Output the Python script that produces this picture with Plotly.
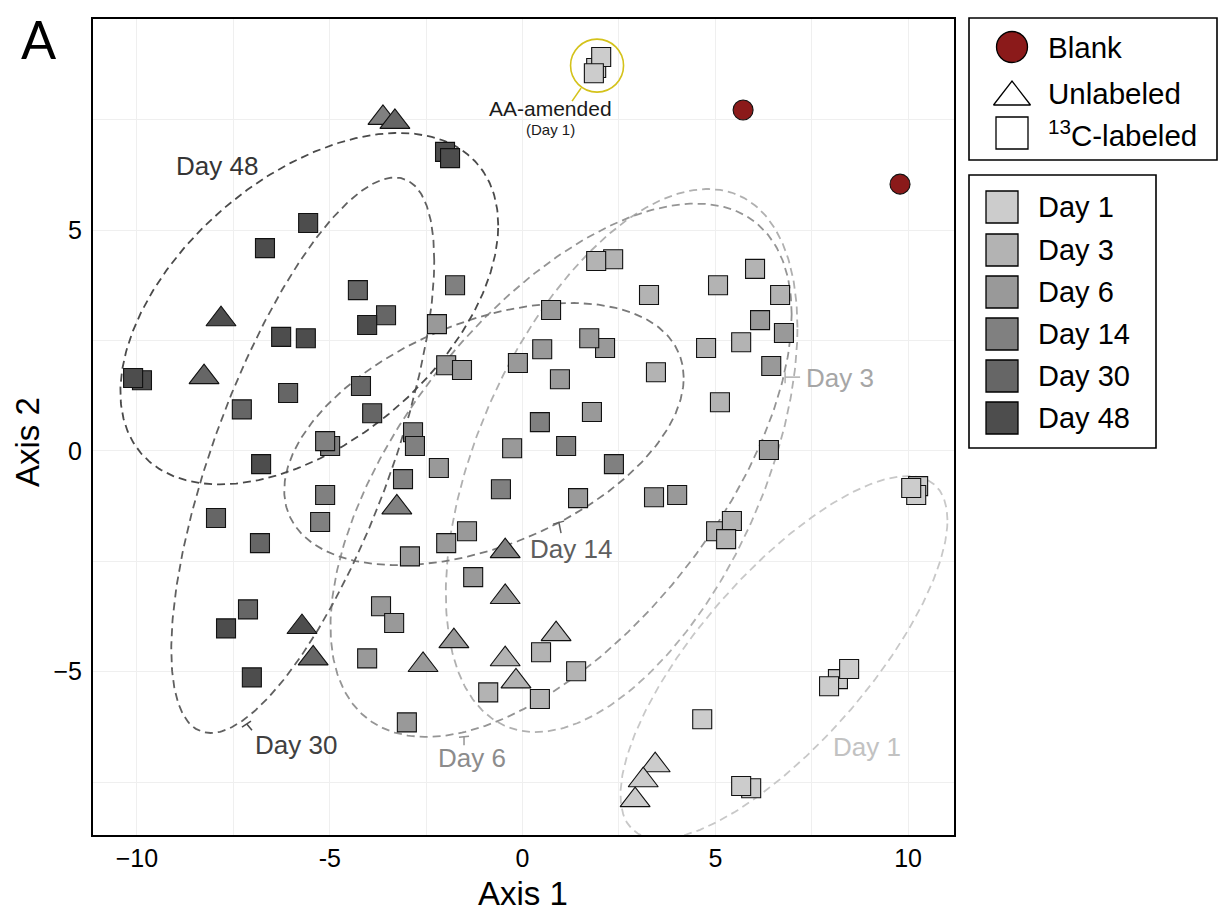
import numpy as np
import plotly.graph_objects as go

# ---------------- data ----------------
days = ["Day 1", "Day 3", "Day 6", "Day 14", "Day 30", "Day 48"]
day_fill = ["#cccccc", "#b3b3b3", "#999999", "#808080", "#666666", "#4d4d4d"]

# 13C-labeled samples (squares)
lab_d1_x = [1.91, 2.04, 1.85, 10.26, 10.21, 10.08, 8.18, 8.47, 7.95, 4.66, 5.93, 5.67]
lab_d1_y = [8.67, 8.92, 8.55, -0.80, -1.00, -0.84, -5.17, -4.94, -5.33, -6.08, -7.64, -7.59]

lab_d3_x = [2.35, 1.91, 3.28, 5.07, 6.03, 6.68, 5.67, 4.76, 3.46, 5.12, 5.02, 5.43, 5.28, 0.48, 1.39, -0.89, 0.45]
lab_d3_y = [4.34, 4.30, 3.53, 3.75, 4.12, 3.53, 2.46, 2.33, 1.78, 1.10, -1.82, -1.59, -2.00, -4.56, -4.99, -5.47, -5.62]

lab_d6_x = [-2.22, -1.98, -1.57, -2.17, -0.27, -1.44, -1.98, -2.92, -1.28, -3.67, -3.33, -4.03, -3.00,
            0.74, 2.14, 1.73, 0.51, -0.12, 0.97, 1.80, 1.44, 3.41, 4.01, 6.16, 6.78, 6.45, 6.39]
lab_d6_y = [2.87, 1.94, 1.83, -0.39, 0.06, -1.82, -2.09, -2.39, -2.86, -3.52, -3.90, -4.70, -6.15,
            3.19, 2.33, 2.55, 2.30, 1.99, 1.62, 0.88, -1.07, -1.05, -1.00, 2.96, 2.67, 1.92, 0.02]

lab_d14_x = [-1.75, -2.84, -2.79, -4.99, -5.12, -3.10, -5.12, -5.25, -0.56, 0.45, 1.13, 2.37]
lab_d14_y = [3.75, 0.42, 0.11, 0.11, 0.22, -0.64, -1.00, -1.61, -0.87, 0.65, 0.11, -0.30]

lab_d30_x = [-4.27, -3.54, -4.19, -6.08, -7.28, -3.90, -7.95, -6.81, -7.12]
lab_d30_y = [3.64, 3.07, 1.47, 1.31, 0.94, 0.85, -1.52, -2.09, -3.59]

lab_d48_x = [-2.01, -1.88, -5.56, -6.68, -4.03, -6.26, -5.62, -9.87, -10.10, -6.78, -7.69, -7.02]
lab_d48_y = [6.77, 6.63, 5.16, 4.59, 2.85, 2.58, 2.55, 1.60, 1.65, -0.30, -4.02, -5.13]

# Unlabeled samples (triangles)
unl_d1_x = [3.44, 3.13, 2.92]
unl_d1_y = [-7.12, -7.46, -7.91]
unl_d3_x = [0.87, -0.45, -0.17]
unl_d3_y = [-4.15, -4.72, -5.22]
unl_d6_x = [-0.45, -1.78, -2.58]
unl_d6_y = [-3.31, -4.31, -4.85]
unl_d14_x = [-3.62, -3.26, -0.45]
unl_d14_y = [7.54, -1.28, -2.27]
unl_d30_x = [-3.31, -8.26, -5.43]
unl_d30_y = [7.45, 1.67, -4.70]
unl_d48_x = [-7.82, -5.72]
unl_d48_y = [2.98, -3.99]

# Blanks (circles)
blank_x = [5.72, 9.79]
blank_y = [7.72, 6.04]

# Group ellipses (centre, half-extent in x / y, correlation), one per day
ell_cx = [6.78, 2.57, 1.00, -1.00, -5.70, -5.53]
ell_cy = [-4.68, -0.22, -0.44, 0.38, -0.10, 3.22]
ell_sx = [4.24, 4.56, 5.98, 5.18, 3.41, 4.90]
ell_sy = [4.11, 6.15, 6.04, 2.97, 6.29, 3.98]
ell_r = [0.757, 0.49, 0.585, 0.43, 0.70, 0.474]

x_ticks = [-10, -5, 0, 5, 10]
x_ticktext = ["\u221210", "-5", "0", "5", "10"]
y_ticks = [-5, 0, 5]
y_ticktext = ["\u22125", "0", "5"]

lab_x = [lab_d1_x, lab_d3_x, lab_d6_x, lab_d14_x, lab_d30_x, lab_d48_x]
lab_y = [lab_d1_y, lab_d3_y, lab_d6_y, lab_d14_y, lab_d30_y, lab_d48_y]
unl_x = [unl_d1_x, unl_d3_x, unl_d6_x, unl_d14_x, unl_d30_x, unl_d48_x]
unl_y = [unl_d1_y, unl_d3_y, unl_d6_y, unl_d14_y, unl_d30_y, unl_d48_y]

# ---------------- styling / layout constants ----------------
FONT = "Liberation Sans, Arial, Helvetica, sans-serif"
OFF = 0                      # page body margin removed via post_script
W, H = 1220 - OFF, 911 - OFF
SCR_L, SCR_R, SCR_T, SCR_B = 93, 954, 19, 835      # plot panel on screen
ML, MR, MT, MB = SCR_L - OFF, 0, 0, H - (SCR_B - OFF)
PW, PH = W - ML - MR, H - MT - MB
ell_line = ["#c8c8c8", "#b0b0b0", "#959595", "#7a7a7a", "#606060", "#4a4a4a"]
lbl_color = ["#c2c2c2", "#a6a6a6", "#8c8c8c", "#5e5e5e", "#404040", "#353535"]
BLANK = "#8b1a1a"
YELLOW = "#d4c21a"


def paper(xs, ys):
    """screen pixel -> paper coordinates"""
    return (xs - SCR_L) / PW, (SCR_B - ys) / PH


fig = go.Figure()

# ellipses
t = np.linspace(0, 2 * np.pi, 400)
for i in range(len(days)):
    S = np.array([[ell_sx[i] ** 2, ell_r[i] * ell_sx[i] * ell_sy[i]],
                  [ell_r[i] * ell_sx[i] * ell_sy[i], ell_sy[i] ** 2]])
    L = np.linalg.cholesky(S)
    pts = L @ np.vstack([np.cos(t), np.sin(t)])
    fig.add_trace(go.Scatter(
        x=ell_cx[i] + pts[0], y=ell_cy[i] + pts[1], mode="lines",
        line=dict(color=ell_line[i], width=1.8, dash="8px,5px"),
        hoverinfo="skip", showlegend=False))

# points
for i in range(len(days)):
    fig.add_trace(go.Scatter(
        x=lab_x[i], y=lab_y[i], mode="markers", name=days[i],
        marker=dict(symbol="square", size=19, color=day_fill[i],
                    line=dict(color="#111111", width=1.1)),
        showlegend=False))
for i in range(len(days)):
    fig.add_trace(go.Scatter(
        x=unl_x[i], y=unl_y[i], mode="markers", name=days[i] + " unlabeled",
        marker=dict(symbol="triangle-up", size=26, color=day_fill[i],
                    line=dict(color="#111111", width=1.1)),
        showlegend=False))
fig.add_trace(go.Scatter(
    x=blank_x, y=blank_y, mode="markers", name="Blank",
    marker=dict(symbol="circle", size=20, color=BLANK,
                line=dict(color="#111111", width=1.1)),
    showlegend=False))

# ellipse labels
lbl_pos = {"Day 1": (8.94, -6.71), "Day 3": (8.24, 1.65), "Day 6": (-1.31, -6.96),
           "Day 14": (1.26, -2.23), "Day 30": (-5.87, -6.67), "Day 48": (-7.92, 6.45)}
annotations = []
for i, d in enumerate(days):
    x, y = lbl_pos[d]
    annotations.append(dict(x=x, y=y, xref="x", yref="y", text=d, showarrow=False,
                            font=dict(family=FONT, size=26, color=lbl_color[i]),
                            xanchor="center", yanchor="middle"))


def dx(px):
    return (px - 522.5) / 38.55


def dy(py):
    return (450.7 - py) / 44.15


# label connector ticks
ticks_segs = [
    (559, 523, 561, 533, 4), (553, 524, 564, 521, 4),      # Day 14
    (464, 736, 464, 745, 2), (459, 737, 469, 736, 2),      # Day 6
    (247, 724, 252, 730, 5), (242, 727, 251, 721, 5),      # Day 30
    (785, 377, 800, 377, 1), (785, 372, 785, 383, 1),      # Day 3
]
shapes = []
for x0, y0, x1, y1, ci in ticks_segs:
    shapes.append(dict(type="line", xref="x", yref="y", x0=dx(x0), y0=dy(y0), x1=dx(x1), y1=dy(y1),
                       line=dict(color=ell_line[ci], width=1.5)))

# AA-amended highlight
shapes.append(dict(type="circle", xref="x", yref="y", xsizemode="pixel", ysizemode="pixel",
                   xanchor=dx(597), yanchor=dy(65.5), x0=-26.5, x1=26.5, y0=-26.5, y1=26.5,
                   line=dict(color=YELLOW, width=1.6)))
shapes.append(dict(type="line", xref="x", yref="y", x0=dx(581), y0=dy(88), x1=dx(572), y1=dy(101),
                   line=dict(color=YELLOW, width=1.6)))
annotations.append(dict(x=dx(550), y=dy(108), xref="x", yref="y", text="AA-amended", showarrow=False,
                        xanchor="center", yanchor="middle",
                        font=dict(family=FONT, size=21, color="#1a1a1a")))
annotations.append(dict(x=dx(550), y=dy(129), xref="x", yref="y", text="(Day 1)", showarrow=False,
                        xanchor="center", yanchor="middle",
                        font=dict(family=FONT, size=15, color="#1a1a1a")))

# axis titles and panel letter
for txt, (xs, ys), ang, size, fam in [("Axis 1", (523, 893), 0, 33, FONT),
                                      ("Axis 2", (27, 442), -90, 33, FONT),
                                      ("A", (39, 39), 0, 52, "Lato, " + FONT)]:
    px_, py_ = paper(xs, ys)
    annotations.append(dict(x=px_, y=py_, xref="paper", yref="paper", text=txt, showarrow=False,
                            textangle=ang, xanchor="center", yanchor="middle",
                            font=dict(family=fam, size=size, color="black")))

# ---------------- custom legends (screen-pixel axis x2/y2) ----------------
fig.add_trace(go.Scatter(x=[1012], y=[47], xaxis="x2", yaxis="y2", mode="markers",
                         marker=dict(symbol="circle", size=31, color=BLANK, line=dict(color="black", width=1.3)),
                         showlegend=False, hoverinfo="skip"))
fig.add_trace(go.Scatter(x=[1012], y=[97], xaxis="x2", yaxis="y2", mode="markers",
                         marker=dict(symbol="triangle-up", size=32, color="white", line=dict(color="black", width=1.3)),
                         showlegend=False, hoverinfo="skip"))
fig.add_trace(go.Scatter(x=[1012], y=[133], xaxis="x2", yaxis="y2", mode="markers",
                         marker=dict(symbol="square", size=32, color="white", line=dict(color="black", width=1.3)),
                         showlegend=False, hoverinfo="skip"))
leg_y = [207, 250, 292, 334, 376, 418]
fig.add_trace(go.Scatter(x=[1002] * len(days), y=leg_y, xaxis="x2", yaxis="y2", mode="markers",
                         marker=dict(symbol="square", size=32, color=day_fill, line=dict(color="black", width=1.3)),
                         showlegend=False, hoverinfo="skip"))
for txt, y in [("Blank", 47), ("Unlabeled", 93), ("<sup>13</sup>C-labeled", 133)]:
    annotations.append(dict(x=1046, y=y, xref="x2", yref="y2", text=txt, showarrow=False,
                            xanchor="left", yanchor="middle", font=dict(family=FONT, size=29.5, color="black")))
for d, y in zip(days, leg_y):
    annotations.append(dict(x=1036, y=y, xref="x2", yref="y2", text=d, showarrow=False,
                            xanchor="left", yanchor="middle", font=dict(family=FONT, size=29, color="black")))
shapes.append(dict(type="rect", xref="x2", yref="y2", x0=969, x1=1217, y0=18, y1=160,
                   line=dict(color="black", width=1.6)))
shapes.append(dict(type="rect", xref="x2", yref="y2", x0=969, x1=1156, y0=175, y1=448,
                   line=dict(color="black", width=1.6)))

grid = "#efefef"
fig.update_layout(
    width=W, height=H, margin=dict(l=ML, r=MR, t=MT, b=MB, autoexpand=False),
    paper_bgcolor="white", plot_bgcolor="white",
    showlegend=False,
    font=dict(family=FONT, color="black"),
    xaxis=dict(domain=[0, (SCR_R - SCR_L) / PW], range=[-11.14, 11.19],
               tickmode="array", tickvals=x_ticks, ticktext=x_ticktext,
               tickfont=dict(size=25, family=FONT, color="black"),
               showgrid=True, gridcolor=grid, gridwidth=1, zeroline=False,
               minor=dict(tickmode="array", tickvals=[-7.5, -2.5, 2.5, 7.5], showgrid=True,
                          gridcolor=grid, gridwidth=1, ticks=""),
               showline=True, linecolor="black", linewidth=2, mirror=True, ticks="",
               anchor="y", fixedrange=True),
    yaxis=dict(domain=[0, (SCR_B - SCR_T) / PH], range=[-8.70, 9.78],
               tickmode="array", tickvals=y_ticks, ticktext=y_ticktext,
               tickfont=dict(size=25, family=FONT, color="black"),
               showgrid=True, gridcolor=grid, gridwidth=1, zeroline=False,
               minor=dict(tickmode="array", tickvals=[-7.5, -2.5, 2.5, 7.5], showgrid=True,
                          gridcolor=grid, gridwidth=1, ticks=""),
               showline=True, linecolor="black", linewidth=2, mirror=True, ticks="",
               ticklabelstandoff=4,
               anchor="x", fixedrange=True),
    xaxis2=dict(domain=[(960 - SCR_L) / PW, 1.0], range=[960, 1220], visible=False,
                anchor="y2", fixedrange=True),
    yaxis2=dict(domain=[0, 1], range=[SCR_B, OFF], visible=False, anchor="x2", fixedrange=True),
    shapes=shapes, annotations=annotations,
)

fig.write_html("out.html",
               config={"displayModeBar": False},
               post_script="document.body.style.margin='0px';document.body.style.overflow='hidden';")
